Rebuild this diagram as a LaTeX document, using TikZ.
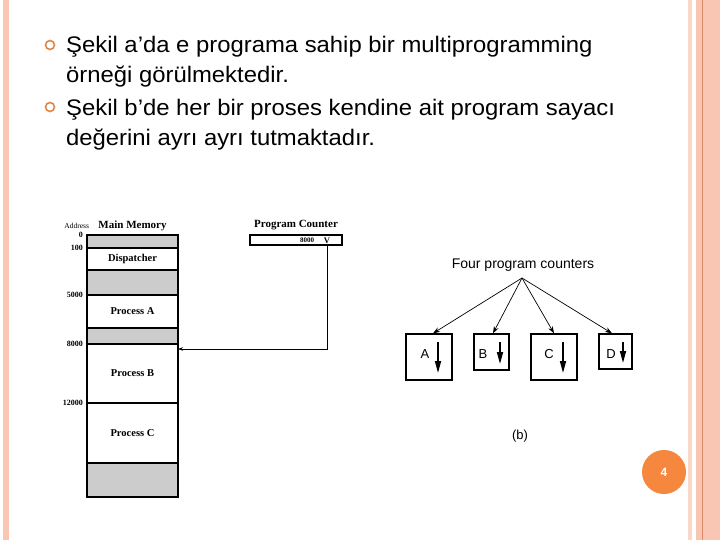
\documentclass[tikz,border=0pt]{standalone}
\usepackage{fontspec}
\setmainfont{Liberation Serif}
\setsansfont{Liberation Sans}
\newfontfamily\slidefont{Liberation Sans}[FakeStretch=1.06]
\usetikzlibrary{arrows.meta,positioning}
\definecolor{framepink}{HTML}{F9C6B3}
\definecolor{framedark}{HTML}{DB8C66}
\definecolor{bulletorange}{HTML}{E0854A}
\definecolor{pagecircle}{HTML}{F5873E}
\definecolor{memgrey}{HTML}{CCCCCC}
\tikzset{node distance=0pt,
        bullettext/.style={ % Slide text, two lines per bullet
            anchor=north west, inner sep=0pt, align=left,
            font=\slidefont\fontsize{22.5}{30}\selectfont},
        bulletmark/.style={circle, draw=bulletorange, line width=1.6pt,
            minimum size=9pt, inner sep=0pt},
        memcell/.style={ % One slice of the main memory column
            draw, line width=1.1pt, minimum width=91pt, inner sep=0pt,
            outer sep=0pt, font=\bfseries\fontsize{10.5}{12}\selectfont},
        memfree/.style={memcell, fill=memgrey},
        addr/.style={inner sep=0pt, font=\bfseries\fontsize{8}{9}\selectfont},
        heading/.style={inner sep=0pt, font=\bfseries\fontsize{11}{12}\selectfont},
        procbox/.style={draw, line width=1.3pt, inner sep=0pt},
        boxletter/.style={inner sep=0pt, font=\sffamily\fontsize{13}{14}\selectfont},
        fork/.style={->, >={Stealth[length=7pt,width=5pt]}, line width=0.7pt},
        pcarrow/.style={->, >={Stealth[length=5pt,width=3.5pt]}, line width=0.6pt},
        runarrow/.style={->, >={Triangle[length=12pt,width=6pt]}, line width=1.6pt}
        }

\begin{document}
\begin{tikzpicture}[x=1pt,y=-1pt]
    \useasboundingbox (0,0) rectangle (720,540);

    % slide frame
    \fill[framepink] (3,0) rectangle (9,540);
    \fill[framepink!70] (688,0) rectangle (692,540);
    \fill[framepink] (696,0) rectangle (720,540);
    \draw[framedark, line width=1pt] (702.5,0) -- (702.5,540);

    % bullets
    \node[bulletmark] (b1) at (50,45) {};
    \node[bulletmark] (b2) at (50,107) {};
    \node[bullettext] (t1) at (66,36) {Şekil a’da e programa sahip bir multiprogramming\\örneği görülmektedir.};
    \node[bullettext] (t2) at (66,98.5) {Şekil b’de her bir proses kendine ait program sayacı\\değerini ayrı ayrı tutmaktadır.};

    % (a) main memory
    \node[memfree, minimum height=13pt, anchor=north] (m0) at (132.5,235) {};
    \node[memcell, minimum height=22pt, below=of m0] (m1) {Dispatcher};
    \node[memfree, minimum height=25pt, below=of m1] (m2) {};
    \node[memcell, minimum height=33pt, below=of m2] (m3) {Process A};
    \node[memfree, minimum height=16pt, below=of m3] (m4) {};
    \node[memcell, minimum height=59pt, below=of m4] (m5) {Process B};
    \node[memcell, minimum height=60pt, below=of m5] (m6) {Process C};
    \node[memfree, minimum height=34pt, below=of m6] (m7) {};

    \node[heading, above=4pt of m0] (mmlabel) {Main Memory};
    \node[inner sep=0pt, font=\fontsize{7.5}{8}\selectfont, left=9pt of mmlabel] (addrlabel) {Address};
    \node[addr, left=4pt of m0.north west] (a0) {0};
    \node[addr, left=4pt of m1.north west] (a1) {100};
    \node[addr, left=4pt of m3.north west] (a2) {5000};
    \node[addr, left=4pt of m5.north west] (a3) {8000};
    \node[addr, left=4pt of m6.north west] (a4) {12000};

    % program counter
    \node[draw, line width=1.1pt, minimum width=92pt, minimum height=10pt, inner sep=0pt] (pc) at (296,240) {};
    \node[heading, above=4pt of pc] (pclabel) {Program Counter};
    \node[addr, font=\bfseries\fontsize{7}{8}\selectfont] (pcnum) at (307,240.5) {8000};
    \node[addr, font=\bfseries\fontsize{8.5}{9}\selectfont] (pcv) at (327,240.5) {V};
    \draw[pcarrow] (pcv.south) |- ([yshift=-5pt]m5.north east);

    % (b) four program counters
    \node[boxletter, font=\sffamily\fontsize{14}{15}\selectfont] (fpc) at (523,265) {Four program counters};
    \coordinate (src) at (522,278);

    \node[procbox, minimum width=46pt, minimum height=46pt] (pA) at (429,357) {};
    \node[procbox, minimum width=35pt, minimum height=36pt] (pB) at (491.5,352) {};
    \node[procbox, minimum width=46pt, minimum height=46pt] (pC) at (554,357) {};
    \node[procbox, minimum width=33pt, minimum height=35pt] (pD) at (615.5,351.5) {};

    \node[boxletter] (lA) at (425,354) {A};
    \node[boxletter] (lB) at (483,354) {B};
    \node[boxletter] (lC) at (549,354) {C};
    \node[boxletter] (lD) at (611,354) {D};

    \draw[runarrow] (438,342) -- (438,373);
    \draw[runarrow] (500,342) -- (500,364);
    \draw[runarrow] (563,342) -- (563,373);
    \draw[runarrow] (623,342) -- (623,363);

    \draw[fork] (src) -- ([xshift=4pt]pA.north);
    \draw[fork] (src) -- ([xshift=1.5pt]pB.north);
    \draw[fork] (src) -- (pC.north);
    \draw[fork] (src) -- ([xshift=-3.5pt]pD.north);

    \node[boxletter] (caption) at (520,436) {(b)};

    % page number
    \node[circle, fill=pagecircle, minimum size=44pt, inner sep=0pt, text=white,
        font=\sffamily\bfseries\fontsize{12}{13}\selectfont] (page) at (664,472) {4};
\end{tikzpicture}
\end{document}
